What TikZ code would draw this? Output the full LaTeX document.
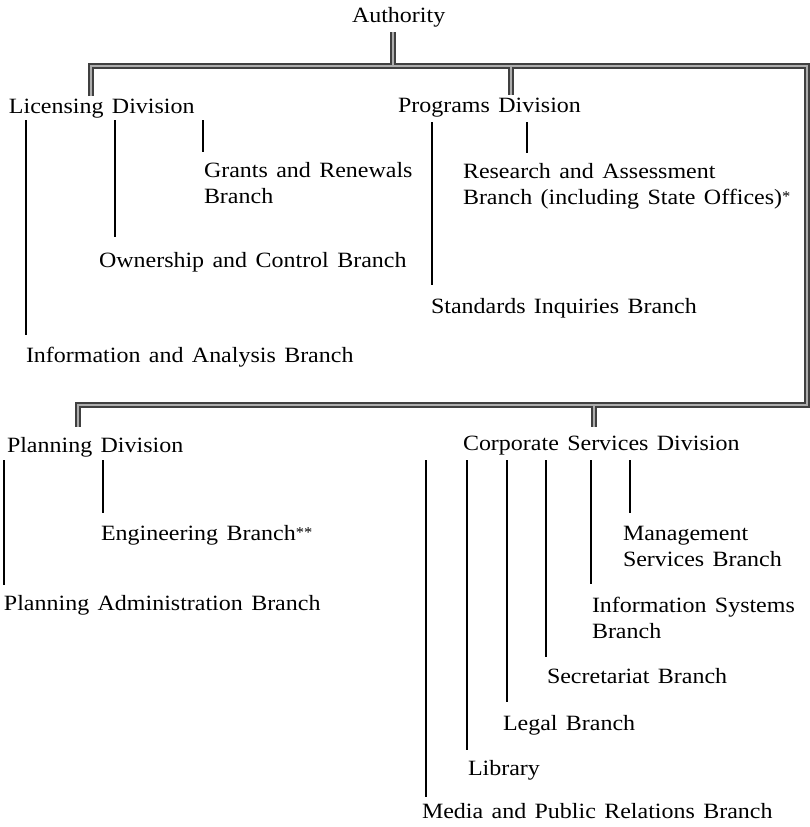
\documentclass[tikz,border=0pt]{standalone}
\usepackage{fontspec}
\setmainfont{Liberation Serif}[FakeStretch=1.1, WordSpace=1.4]
\newcommand\twol[2]{\begin{tabular}[t]{@{}l@{}}#1\\#2\end{tabular}}
\newcommand\myast{\raisebox{0.25ex}{\fontsize{15}{15}\selectfont*}}
\tikzset{
  lbl/.style={anchor=base west, inner sep=0pt, outer sep=0pt, font=\fontsize{21.8}{26}\selectfont},
  ln/.style={draw=black, line width=1.4pt},
  barout/.style={draw=black!75, line width=5.2pt, line join=miter, line cap=butt},
  barin/.style={draw=black!32, line width=2.6pt, line join=miter, line cap=butt},
}
\begin{document}
\begin{tikzpicture}[x=1pt, y=-1pt]
\useasboundingbox (0,0) rectangle (810,827);
% ---- labels
\node[lbl] (auth) at (352,23) {Authority};
\node[lbl] (lic) at (9,113) {Licensing Division};
\node[lbl] (prog) at (398,112) {Programs Division};
\node[lbl] (grants) at (204,177) {\twol{Grants and Renewals}{Branch}};
\node[lbl] (own) at (99,267) {Ownership and Control Branch};
\node[lbl] (info) at (26,362) {Information and Analysis Branch};
\node[lbl] (res) at (463,178) {\twol{Research and Assessment}{Branch (including State Offices)\myast}};
\node[lbl] (std) at (431,313) {Standards Inquiries Branch};
\node[lbl] (plan) at (7,452) {Planning Division};
\node[lbl] (corp) at (463,450) {Corporate Services Division};
\node[lbl] (eng) at (101,540) {Engineering Branch\myast\myast};
\node[lbl] (padm) at (4,610) {Planning Administration Branch};
\node[lbl] (mgmt) at (623,540) {\twol{Management}{Services Branch}};
\node[lbl] (isys) at (592,612) {\twol{Information Systems}{Branch}};
\node[lbl] (sec) at (547,683) {Secretariat Branch};
\node[lbl] (legal) at (503,730) {Legal Branch};
\node[lbl] (lib) at (468,775) {Library};
\node[lbl] (media) at (422,818) {Media and Public Relations Branch};
% ---- junction coordinates
\coordinate (a0) at (393,32);
\coordinate (jA) at (393,66);
\coordinate (jL) at (91,66);
\coordinate (sL) at (91,96);
\coordinate (jP) at (511,66);
\coordinate (sP) at (511,95);
\coordinate (jR) at (807,66);
\coordinate (jR2) at (807,405);
\coordinate (jC) at (594,405);
\coordinate (sC) at (594,427);
\coordinate (jPl) at (78,405);
\coordinate (sPl) at (78,427);
% ---- grey bars
\foreach \st in {barout,barin}{
  \draw[\st] (sL) -- (jL) -- (jR) -- (jR2) -- (jPl) -- (sPl);
  \draw[\st] (a0) -- (jA);
  \draw[\st] (jP) -- (sP);
  \draw[\st] (jC) -- (sC);
}
% ---- branch lines: Licensing
\coordinate (l1a) at (26,120);  \coordinate (l1b) at (26,335);
\coordinate (l2a) at (115,120); \coordinate (l2b) at (115,237);
\coordinate (l3a) at (203,120); \coordinate (l3b) at (203,152);
\draw[ln] (l1a) -- (l1b);
\draw[ln] (l2a) -- (l2b);
\draw[ln] (l3a) -- (l3b);
% Programs
\coordinate (p1a) at (432,122); \coordinate (p1b) at (432,285);
\coordinate (p2a) at (527,122); \coordinate (p2b) at (527,153);
\draw[ln] (p1a) -- (p1b);
\draw[ln] (p2a) -- (p2b);
% Planning
\coordinate (q1a) at (4,460);   \coordinate (q1b) at (4,585);
\coordinate (q2a) at (103,460); \coordinate (q2b) at (103,513);
\draw[ln] (q1a) -- (q1b);
\draw[ln] (q2a) -- (q2b);
% Corporate
\coordinate (c1a) at (426,460); \coordinate (c1b) at (426,797);
\coordinate (c2a) at (467,460); \coordinate (c2b) at (467,750);
\coordinate (c3a) at (507,460); \coordinate (c3b) at (507,702);
\coordinate (c4a) at (546,460); \coordinate (c4b) at (546,657);
\coordinate (c5a) at (591,460); \coordinate (c5b) at (591,584);
\coordinate (c6a) at (630,460); \coordinate (c6b) at (630,513);
\foreach \i in {1,...,6}{\draw[ln] (c\i a) -- (c\i b);}
\end{tikzpicture}
\end{document}
